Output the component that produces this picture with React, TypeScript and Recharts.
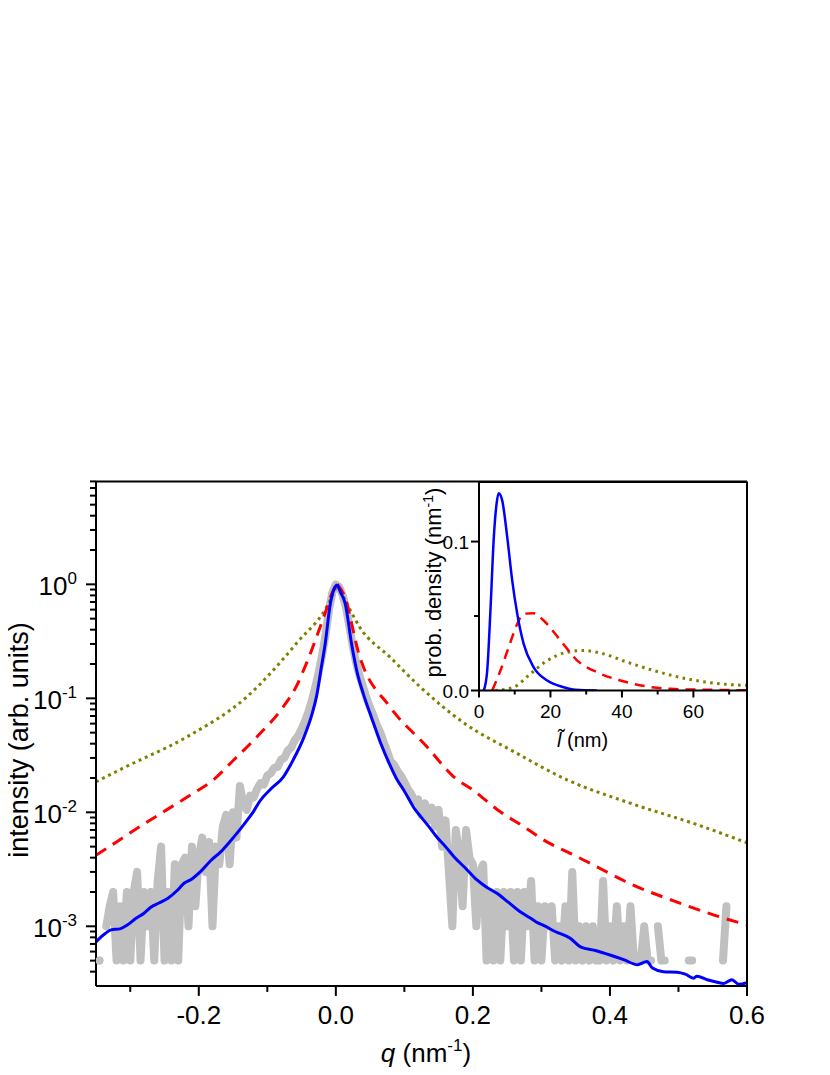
import React from 'react';
import { LineChart, Line, XAxis, YAxis } from 'recharts';

const FONT = '"Liberation Sans", Arial, Helvetica, sans-serif';

// ---------------- main panel: measured data (grey), sampled every 0.005 nm^-1 from q = -0.35 ----------------
const grayStartQ = -0.35;
const grayStepQ = 0.005;
const grayIntensity: (number | null)[] = [
  // q = -0.350 ... -0.120
  null, 0.0005, null, 0.001, 0.0015, 0.002, 0.0005, 0.0015, 0.0005, 0.002,
  0.0005, 0.002, 0.003, 0.0005, 0.002, 0.001, 0.002, 0.0005, 0.0025, 0.005,
  0.0005, 0.002, 0.0005, 0.0035, 0.0005, 0.0035, 0.004, 0.001, 0.005, 0.0015,
  0.004, 0.006, 0.003, 0.0055, 0.001, 0.005, 0.0035, 0.0075, 0.0095, 0.0035,
  0.01, 0.006, 0.017, 0.012, 0.0105, 0.014, 0.0135,
  // q = -0.115 ... 0.115
  0.016, 0.018, 0.0175, 0.021, 0.022, 0.0245, 0.025, 0.029, 0.03, 0.035,
  0.037, 0.043, 0.047, 0.054, 0.063, 0.076, 0.096, 0.125, 0.17, 0.24,
  0.36, 0.6, 0.85, 1.0, 0.95, 0.8, 0.62, 0.42, 0.28, 0.2,
  0.155, 0.125, 0.1, 0.083, 0.07, 0.058, 0.05, 0.041, 0.034, 0.028,
  0.026, 0.023, 0.021, 0.0185, 0.016, 0.0145, 0.0125,
  // q = 0.120 ... 0.600
  0.013, 0.0095, 0.012, 0.0085, 0.011, 0.0075, 0.0105, 0.005, 0.0085, 0.003,
  0.001, 0.007, 0.0045, 0.0015, 0.007, 0.004, 0.0035, 0.001, 0.003, 0.0035,
  0.0005, 0.002, 0.0005, 0.002, 0.0005, 0.002, 0.001, 0.002, 0.0005, 0.002,
  0.0005, 0.002, 0.001, 0.0025, 0.0005, 0.0015, 0.0005, 0.0015, 0.001, 0.0015,
  0.0005, 0.001, 0.0005, 0.0015, 0.0005, 0.003, 0.0005, 0.001, 0.0005, 0.001,
  0.0005, 0.001, 0.0005, 0.0005, 0.0025, 0.0005, 0.001, 0.0005, 0.0015, 0.0005,
  0.001, 0.0005, 0.0015, 0.0005, null, 0.0005, 0.001, 0.0005, 0.0005, null,
  0.001, 0.0005, 0.0005, null, null, null, null, null, null, 0.0005,
  0.0005, null, null, null, null, null, null, null, null, 0.0005,
  0.0015, null, null, null, null, null, null,
];

// ---------------- main panel: model curves (peak at q = 0.002) ----------------
const peakQ = 0.002;
const blueQ = [-0.35, -0.337, -0.328, -0.315, -0.305, -0.292, -0.28, -0.27, -0.258, -0.245, -0.232, -0.221, -0.21, -0.198, -0.182, -0.168, -0.155, -0.143, -0.131, -0.12, -0.111, -0.095, -0.0765, -0.062, -0.047, -0.035, -0.028, -0.021, -0.0156, -0.008, -0.003, 0.002, 0.007, 0.0136, 0.023, 0.031, 0.04, 0.052, 0.065, 0.079, 0.089, 0.099, 0.116, 0.123, 0.138, 0.147, 0.16, 0.172, 0.19, 0.206, 0.22, 0.235, 0.252, 0.269, 0.285, 0.295, 0.303, 0.32, 0.342, 0.357, 0.38, 0.4, 0.42, 0.44, 0.454, 0.462, 0.478, 0.498, 0.51, 0.522, 0.527, 0.542, 0.555, 0.566, 0.578, 0.588, 0.6];
const blueI = [7.3e-4, 8.6e-4, 9.3e-4, 9.5e-4, 1.02e-3, 1.17e-3, 1.3e-3, 1.47e-3, 1.6e-3, 1.76e-3, 2.05e-3, 2.4e-3, 2.6e-3, 3.0e-3, 3.8e-3, 4.5e-3, 5.5e-3, 6.7e-3, 8.3e-3, 0.0102, 0.0125, 0.016, 0.0205, 0.029, 0.045, 0.072, 0.105, 0.19, 0.3, 0.68, 0.9, 1.0, 0.85, 0.68, 0.3, 0.17, 0.11, 0.068, 0.041, 0.026, 0.0195, 0.0157, 0.0105, 0.0093, 0.0072, 0.0061, 0.005, 0.0041, 0.0032, 0.00255, 0.0022, 0.00195, 0.00162, 0.00134, 0.00117, 0.00107, 0.00102, 0.0009, 0.000785, 0.00066, 0.00061, 0.00056, 0.00051, 0.00046, 0.00049, 0.00043, 0.0004, 0.000396, 0.00038, 0.00035, 0.000365, 0.00034, 0.000325, 0.000315, 0.00034, 0.00031, 0.00032];

const redQ = [-0.35, -0.32, -0.286, -0.247, -0.208, -0.179, -0.149, -0.115, -0.076, -0.059, -0.042, -0.0156, -0.0035, 0.002, 0.011, 0.035, 0.079, 0.133, 0.172, 0.2, 0.24, 0.274, 0.308, 0.342, 0.366, 0.434, 0.503, 0.551, 0.6];
const redI = [4.2e-3, 5.5e-3, 7.5e-3, 0.0105, 0.0147, 0.0192, 0.0288, 0.046, 0.0855, 0.123, 0.209, 0.56, 0.89, 1.0, 0.83, 0.23, 0.084, 0.0376, 0.0205, 0.0157, 0.0101, 0.0075, 0.0055, 0.00437, 0.0037, 0.0023, 0.00159, 0.00126, 0.00103];

const oliveQ = [-0.35, -0.31, -0.217, -0.13, -0.057, -0.008, 0.002, 0.016, 0.035, 0.079, 0.123, 0.19, 0.26, 0.338, 0.43, 0.527, 0.6];
const oliveI = [0.0185, 0.0245, 0.046, 0.103, 0.306, 0.73, 1.0, 0.68, 0.42, 0.23, 0.126, 0.059, 0.034, 0.0192, 0.012, 0.0078, 0.0054];

// ---------------- inset: length distributions ----------------
const insetBlueL = [1.35, 2.3, 3.2, 4.15, 4.9, 5.5, 6.5, 7.9, 9.3, 10.7, 12.5, 15.3, 19.1, 23.7, 27, 33];
const insetBlueP = [0, 0.0134, 0.0537, 0.103, 0.125, 0.1324, 0.1275, 0.103, 0.0738, 0.0515, 0.0313, 0.0156, 0.0067, 0.0022, 0.0005, 0];

const insetRedL = [3.7, 6.0, 8.3, 10.7, 12.5, 15.3, 18.1, 22.8, 27.5, 33, 39.6, 47, 53.6, 66, 75];
const insetRedP = [0, 0.0134, 0.029, 0.0447, 0.0515, 0.0519, 0.047, 0.0336, 0.0201, 0.0123, 0.0067, 0.0027, 0.0011, 0.0004, 0.0002];

const insetOliveL = [4.5, 9.7, 14.4, 19.1, 24.7, 29.3, 34.9, 41.5, 48.9, 58.2, 67.5, 75];
const insetOliveP = [0, 0.0022, 0.0112, 0.0201, 0.0257, 0.0268, 0.0246, 0.019, 0.0134, 0.0078, 0.0045, 0.0034];

// ---------------- ticks ----------------
const qMajor = [-0.2, 0, 0.2, 0.4, 0.6];
const qMajorLabels = ['-0.2', '0.0', '0.2', '0.4', '0.6'];
const qMinor = [-0.3, -0.1, 0.1, 0.3, 0.5];
const iMajor = [1e-3, 1e-2, 1e-1, 1];
const iMajorExp = ['-3', '-2', '-1', '0'];
const iMinor = [
  4e-4, 5e-4, 6e-4, 7e-4, 8e-4, 9e-4,
  2e-3, 3e-3, 4e-3, 5e-3, 6e-3, 7e-3, 8e-3, 9e-3,
  2e-2, 3e-2, 4e-2, 5e-2, 6e-2, 7e-2, 8e-2, 9e-2,
  0.2, 0.3, 0.4, 0.5, 0.6, 0.7, 0.8, 0.9,
  2, 3, 4, 5, 6, 7, 8,
];
const lMajor = [0, 20, 40, 60];
const lMajorLabels = ['0', '20', '40', '60'];
const lMinor = [10, 30, 50, 70];
const pMajor = [0, 0.1];
const pMajorLabels = ['0.0', '0.1'];
const pMinor = [0.05];

// ---------------- build series ----------------
const grayData = grayIntensity.map((v, i) => ({ q: grayStartQ + i * grayStepQ, v }));
const toRows = (qs: number[], vs: number[]) => qs.map((q, i) => ({ q, v: vs[i] }));
const leftOf = (rows: { q: number; v: number }[]) => rows.filter((r) => r.q <= peakQ + 1e-9);
const rightOf = (rows: { q: number; v: number }[]) => rows.filter((r) => r.q >= peakQ - 1e-9);
const blueRows = toRows(blueQ, blueI);
const redRows = toRows(redQ, redI);
const oliveRows = toRows(oliveQ, oliveI);
const insetBlue = insetBlueL.map((l, i) => ({ l, p: insetBlueP[i] }));
const insetRed = insetRedL.map((l, i) => ({ l, p: insetRedP[i] }));
const insetOlive = insetOliveL.map((l, i) => ({ l, p: insetOliveP[i] }));

const AX = { stroke: '#000', strokeWidth: 2 };

const near = (a: number, b: number) => Math.abs(a - b) <= Math.abs(b) * 1e-6 + 1e-12;

const MainXTick = (props: any) => {
  const { x, y, payload } = props;
  const mi = qMajor.findIndex((m) => near(payload.value, m));
  return (
    <g>
      <line x1={x} x2={x} y1={y} y2={y + (mi >= 0 ? 10 : 6)} stroke="#000" strokeWidth={2} />
      {mi >= 0 && (
        <text x={x} y={y + 38.5} textAnchor="middle" fontSize={26} fontFamily={FONT} fill="#000">
          {qMajorLabels[mi]}
        </text>
      )}
    </g>
  );
};

const MainYTick = (props: any) => {
  const { x, y, payload } = props;
  const mi = iMajor.findIndex((m) => near(payload.value, m));
  return (
    <g>
      <line x1={x} x2={x - (mi >= 0 ? 10 : 6)} y1={y} y2={y} stroke="#000" strokeWidth={2} />
      {mi >= 0 && (
        <text x={x - 19} y={y + 10.5} textAnchor="end" fontSize={26} fontFamily={FONT} fill="#000">
          10
          <tspan dy={-11} fontSize={17}>
            {iMajorExp[mi]}
          </tspan>
        </text>
      )}
    </g>
  );
};

const InsetXTick = (props: any) => {
  const { x, y, payload } = props;
  const mi = lMajor.findIndex((m) => near(payload.value, m));
  return (
    <g>
      <line x1={x} x2={x} y1={y} y2={y + (mi >= 0 ? 7 : 4)} stroke="#000" strokeWidth={2} />
      {mi >= 0 && (
        <text x={x} y={y + 27} textAnchor="middle" fontSize={19} fontFamily={FONT} fill="#000">
          {lMajorLabels[mi]}
        </text>
      )}
    </g>
  );
};

const InsetYTick = (props: any) => {
  const { x, y, payload } = props;
  const mi = pMajor.findIndex((m) => near(payload.value, m));
  return (
    <g>
      <line x1={x} x2={x - (mi >= 0 ? 8 : 5)} y1={y} y2={y} stroke="#000" strokeWidth={2} />
      {mi >= 0 && (
        <text x={x - 10} y={y + 7} textAnchor="end" fontSize={19} fontFamily={FONT} fill="#000">
          {pMajorLabels[mi]}
        </text>
      )}
    </g>
  );
};

const GrayDot = (props: any) => {
  const { cx, cy, index } = props;
  const v = grayIntensity[index];
  const isolated = v != null && grayIntensity[index - 1] == null && grayIntensity[index + 1] == null;
  if (!isolated || cx == null || cy == null) return <g key={`gd-${index}`} />;
  return <circle key={`gd-${index}`} cx={cx} cy={cy} r={4} fill="#c0c0c0" />;
};

const modelLine = (key: string, rows: any[], color: string, width: number, dash?: string) => (
  <Line
    key={key}
    xAxisId="b"
    yAxisId="l"
    data={rows}
    dataKey="v"
    type="monotone"
    stroke={color}
    strokeWidth={width}
    strokeDasharray={dash}
    dot={false}
    activeDot={false}
    isAnimationActive={false}
  />
);

export default function App() {
  return (
    <div style={{ position: 'relative', width: 814, height: 1059, fontFamily: FONT }}>
      <LineChart width={814} height={1059} margin={{ top: 472.4, right: 74, bottom: 31.1, left: 0 }}>
        <XAxis
          xAxisId="b"
          dataKey="q"
          type="number"
          domain={[-0.35, 0.6]}
          allowDataOverflow
          ticks={[...qMinor, ...qMajor]}
          interval={0}
          tick={MainXTick}
          tickLine={false}
          tickSize={0}
          tickMargin={0}
          height={50}
          axisLine={AX}
        />
        <XAxis
          xAxisId="t"
          orientation="top"
          type="number"
          domain={[-0.35, 0.6]}
          allowDataOverflow
          tick={false}
          tickLine={false}
          height={1}
          axisLine={AX}
        />
        <YAxis
          yAxisId="l"
          type="number"
          scale="log"
          domain={[3e-4, 8]}
          allowDataOverflow
          ticks={[...iMinor, ...iMajor]}
          interval={0}
          tick={MainYTick}
          tickLine={false}
          tickSize={0}
          tickMargin={0}
          width={88}
          axisLine={AX}
        />
        <YAxis
          yAxisId="r"
          orientation="right"
          type="number"
          domain={[0, 1]}
          tick={false}
          tickLine={false}
          width={1}
          axisLine={AX}
        />
        <Line
          xAxisId="b"
          yAxisId="l"
          data={grayData}
          dataKey="v"
          type="linear"
          stroke="#c0c0c0"
          strokeWidth={8}
          strokeLinecap="round"
          strokeLinejoin="round"
          dot={GrayDot}
          activeDot={false}
          connectNulls={false}
          isAnimationActive={false}
        />
        {modelLine('olive-l', leftOf(oliveRows), '#808000', 3, '3 3.8')}
        {modelLine('olive-r', rightOf(oliveRows), '#808000', 3, '3 3.8')}
        {modelLine('red-l', leftOf(redRows), '#ff0000', 3, '12 8')}
        {modelLine('red-r', rightOf(redRows), '#ff0000', 3, '12 8')}
        {modelLine('blue-l', leftOf(blueRows), '#0000ff', 3)}
        {modelLine('blue-r', rightOf(blueRows), '#0000ff', 3)}
      </LineChart>

      <div style={{ position: 'absolute', left: 411, top: 463.5 }}>
        <LineChart width={340} height={258.5} margin={{ top: 9, right: 11, bottom: 0, left: 0 }}>
          <XAxis
            xAxisId="b"
            dataKey="l"
            type="number"
            domain={[0, 75]}
            allowDataOverflow
            ticks={[...lMinor, ...lMajor]}
            interval={0}
            tick={InsetXTick}
            tickLine={false}
            tickSize={0}
            tickMargin={0}
            height={40}
            axisLine={AX}
          />
          <XAxis
            xAxisId="t"
            orientation="top"
            type="number"
            domain={[0, 75]}
            tick={false}
            tickLine={false}
            height={1}
            axisLine={AX}
          />
          <YAxis
            yAxisId="l"
            type="number"
            domain={[0, 0.14]}
            allowDataOverflow
            ticks={[...pMinor, ...pMajor]}
            interval={0}
            tick={InsetYTick}
            tickLine={false}
            tickSize={0}
            tickMargin={0}
            width={60}
            axisLine={AX}
          />
          <YAxis
            yAxisId="r"
            orientation="right"
            type="number"
            domain={[0, 1]}
            tick={false}
            tickLine={false}
            width={1}
            axisLine={AX}
          />
          <Line
            xAxisId="b"
            yAxisId="l"
            data={insetOlive}
            dataKey="p"
            type="monotone"
            stroke="#808000"
            strokeWidth={3}
            strokeDasharray="2.6 4.4"
            dot={false}
            activeDot={false}
            isAnimationActive={false}
          />
          <Line
            xAxisId="b"
            yAxisId="l"
            data={insetRed}
            dataKey="p"
            type="monotone"
            stroke="#ff0000"
            strokeWidth={2.5}
            strokeDasharray="10 7"
            dot={false}
            activeDot={false}
            isAnimationActive={false}
          />
          <Line
            xAxisId="b"
            yAxisId="l"
            data={insetBlue}
            dataKey="p"
            type="monotone"
            stroke="#0000ff"
            strokeWidth={2.5}
            dot={false}
            activeDot={false}
            isAnimationActive={false}
          />
        </LineChart>
      </div>

      <svg
        width={814}
        height={1066}
        style={{ position: 'absolute', left: 0, top: 0, overflow: 'visible', pointerEvents: 'none' }}
      >
        <text
          x={20}
          y={732}
          transform="rotate(-90 20 732)"
          textAnchor="middle"
          fontSize={27}
          fontFamily={FONT}
          fill="#000"
        >
          intensity (arb. units)
        </text>
        <text x={418} y={1054} textAnchor="middle" fontSize={26} fontFamily={FONT} fill="#000">
          <tspan fontStyle="italic">q</tspan> (nm
          <tspan dy={-11} fontSize={17}>
            -1
          </tspan>
          <tspan dy={11}>)</tspan>
        </text>
        <text
          x={433}
          y={574.5}
          transform="rotate(-90 433 574.5)"
          textAnchor="middle"
          fontSize={22}
          fontFamily={FONT}
          fill="#000"
        >
          prob. density (nm
          <tspan dy={-8.5} fontSize={14}>
            -1
          </tspan>
          <tspan dy={8.5}>)</tspan>
        </text>
        <text x={549} y={739} fontSize={20} fontFamily={FONT} fill="#000">
          <tspan fontStyle="italic">{'l\u0303'}</tspan>
          {' (nm)'}
        </text>
      </svg>
    </div>
  );
}
